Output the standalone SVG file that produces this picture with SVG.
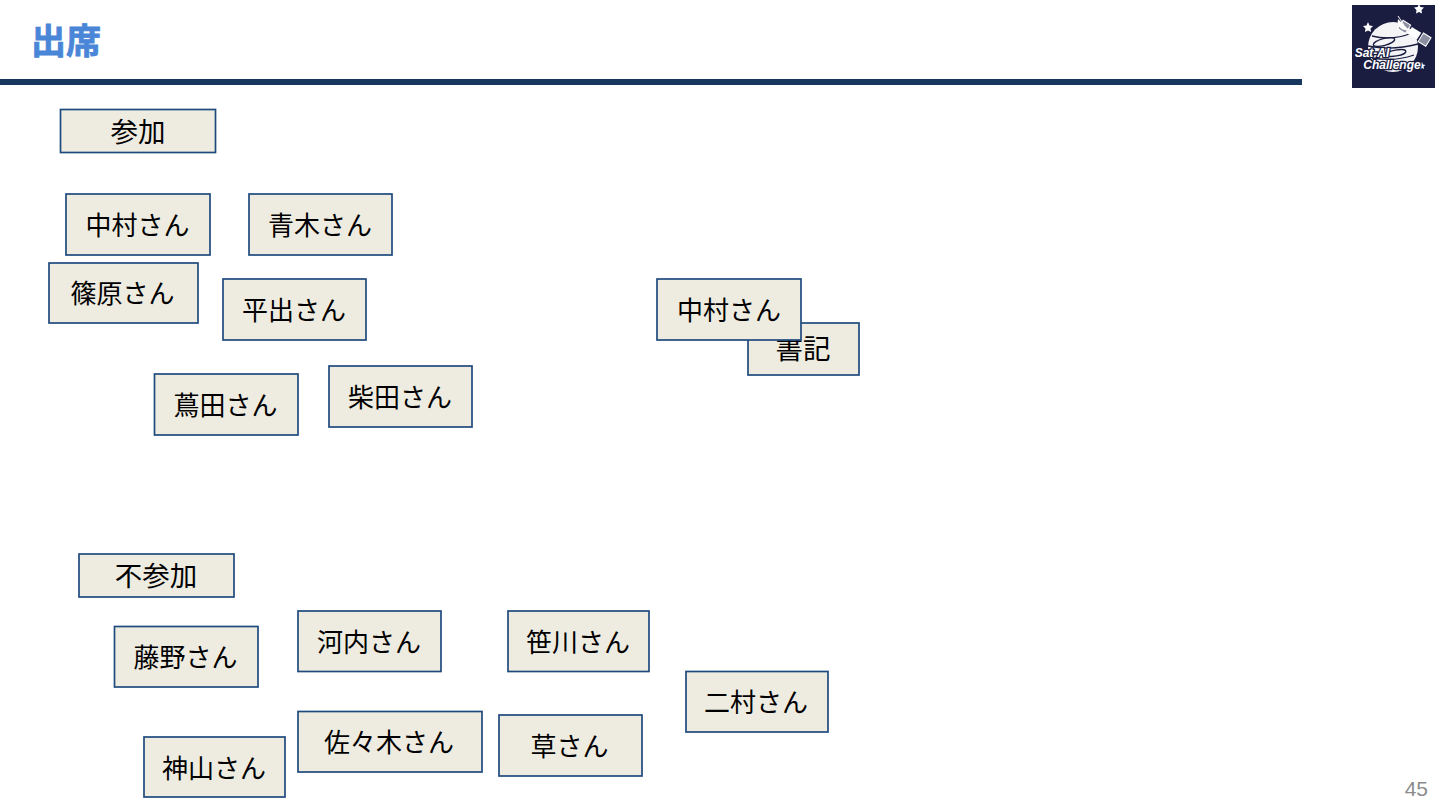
<svg xmlns="http://www.w3.org/2000/svg" width="1440" height="810" viewBox="0 0 1440 810">
<style>
text{font-family:"Liberation Sans","Noto Sans CJK JP",sans-serif}
.n rect{fill:#eeece1;stroke:#1f4a7d;stroke-width:1.7}
.n text{font-size:26px;fill:#000;text-anchor:middle;dominant-baseline:central;font-family:"Noto Sans CJK JP",sans-serif}
.n text.b{font-size:27.500px}
.s{fill:#fff}
.p{fill:#8b8ea0;stroke:#fff;stroke-width:1}
.l{font-size:12px;font-weight:700;font-style:italic;text-anchor:middle;fill:#fff;stroke:#1a1c40;stroke-width:2.500px;paint-order:stroke}
</style>
<rect width="1440" height="810" fill="#fff"/>
<text x="31" y="54" font-size="35" font-weight="700" fill="#4a86d8" stroke="#4a86d8" stroke-width=".8" style="font-family:'Noto Sans CJK JP',sans-serif">出席</text>
<rect x="0" y="79" width="1302" height="6" fill="#17375e"/>
<g id="logo">
<rect x="1352" y="5" width="83" height="83" fill="#1a1c40"/>
<circle cx="1393" cy="47" r="25" fill="#f4f4f6"/>
<g fill="none" stroke="#1a1c40" stroke-width="1.300">
<path d="M1372 36q20 5 40-3M1368 46q24 5 50-2M1372 58q22 4 42-3"/>
<ellipse cx="1384" cy="42" rx="11" ry="3.500" transform="rotate(-15 1384 42)"/>
<ellipse cx="1396" cy="53" rx="10" ry="3" transform="rotate(-10 1396 53)"/>
</g>
<g transform="rotate(32 1414 33)">
<rect x="1409" y="29" width="11" height="8" fill="#fff"/>
<rect class="p" x="1398" y="28" width="9" height="10"/>
<rect class="p" x="1422" y="28" width="9" height="10"/>
</g>
<path d="M1398 19a9 9 0 0 0 11 11z" fill="#fff"/>
<path d="M1404 25l-6-9" stroke="#fff" stroke-width="1"/>
<path class="s" d="M1368 22l1.500 3.500 3.500.5-2.500 2.500.5 3.500-3-1.500-3 1.500.5-3.500-2.500-2.500 3.500-.5z"/>
<path class="s" d="M1419 4l1.500 3 3.500.5-2.500 2.500.5 3.500-3-1.500-3 1.500.5-3.500-2.500-2.500 3.500-.5z"/>
<path class="s" d="M1422 62l1 2.500 2.500.5-2 1.500.5 2.500-2-1-2 1 .5-2.500-2-1.500 2.500-.5z"/>
<text class="l" x="1372" y="57">Sat-AI</text>
<text class="l" x="1392" y="69">Challenge</text>
</g>
<g id="connectors"/>
<g id="n-sanka" class="n"><rect x="60.500" y="109.500" width="155" height="43"/><text class="b" x="138" y="130">参加</text></g>
<g id="n-nakamura" class="n"><rect x="66" y="194" width="144" height="61"/><text x="137.500" y="223">中村さん</text></g>
<g id="n-aoki" class="n"><rect x="249" y="194" width="143" height="61"/><text x="320" y="223">青木さん</text></g>
<g id="n-shinohara" class="n"><rect x="49" y="263" width="149" height="60"/><text x="122.500" y="291">篠原さん</text></g>
<g id="n-hirade" class="n"><rect x="223" y="279" width="143" height="61"/><text x="294" y="308">平出さん</text></g>
<g id="n-shoki" class="n"><rect x="748" y="323" width="111" height="52"/><text class="b" x="803" y="347">書記</text></g>
<g id="n-nakamura2" class="n"><rect x="657" y="279" width="144" height="61"/><text x="729" y="308">中村さん</text></g>
<g id="n-tsutada" class="n"><rect x="154.500" y="374" width="143.500" height="61"/><text x="225.500" y="403">蔦田さん</text></g>
<g id="n-shibata" class="n"><rect x="329" y="366" width="143" height="61"/><text x="400" y="395">柴田さん</text></g>
<g id="n-fusanka" class="n"><rect x="79" y="554" width="155" height="43"/><text class="b" x="156" y="574">不参加</text></g>
<g id="n-fujino" class="n"><rect x="114.500" y="626.500" width="143.500" height="60.500"/><text x="185.500" y="655">藤野さん</text></g>
<g id="n-kawachi" class="n"><rect x="298" y="611" width="143" height="60.500"/><text x="369" y="640">河内さん</text></g>
<g id="n-sasagawa" class="n"><rect x="508" y="611" width="141" height="60.500"/><text x="578" y="640">笹川さん</text></g>
<g id="n-nimura" class="n"><rect x="686" y="671.500" width="142" height="60.500"/><text x="756" y="700">二村さん</text></g>
<g id="n-sasaki" class="n"><rect x="298" y="711.500" width="184" height="60.500"/><text x="389" y="740">佐々木さん</text></g>
<g id="n-kusa" class="n"><rect x="499" y="715" width="143" height="61"/><text x="569.500" y="744">草さん</text></g>
<g id="n-kamiyama" class="n"><rect x="144" y="737" width="141" height="60"/><text x="214" y="766">神山さん</text></g>
<text x="1428" y="796" font-size="21" fill="#8c8c8c" text-anchor="end">45</text>
</svg>
